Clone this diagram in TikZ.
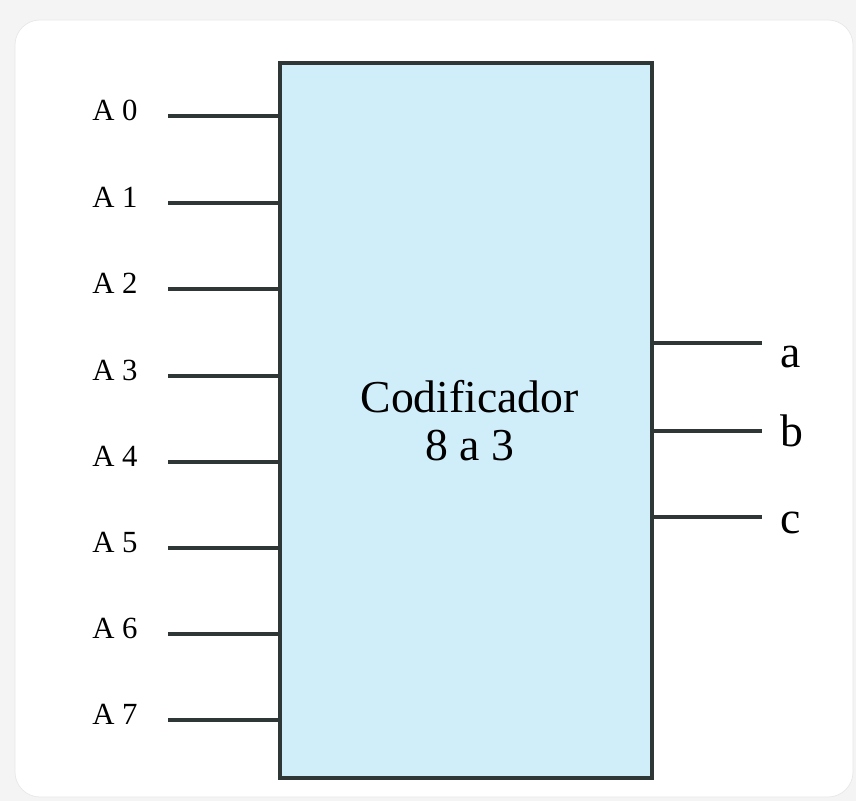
\documentclass[tikz,border=0pt]{standalone}
\usepackage{fontspec}
\setmainfont{Liberation Serif}
\definecolor{pagegray}{HTML}{F4F4F4}
\definecolor{cardline}{HTML}{E8E8E8}
\definecolor{encfill}{HTML}{D0EEF9}
\definecolor{wiregray}{HTML}{2E3636}

\begin{document}
\begin{tikzpicture}[
    wireline/.style={line width=2.1pt,draw=wiregray},
    inlabel/.style={anchor=base west,inner sep=0pt,font=\fontsize{17.5}{19}\selectfont},
    outlabel/.style={anchor=base west,inner sep=0pt,font=\fontsize{26}{28}\selectfont}]
    \useasboundingbox (0,0) rectangle (17.12,16.02);
    \fill[pagegray] (0,0) rectangle (17.12,16.02);
    \draw[cardline,fill=white,rounded corners=0.5cm] (0.3,0.08) rectangle (17.06,15.62);

    % encoder block
    \node[draw=wiregray,line width=2.1pt,fill=encfill,minimum width=7.44cm,minimum height=14.3cm,
          inner sep=0pt,align=center,font=\fontsize{26}{27.5}\selectfont] (enc) at (9.32,7.61)
          {\hspace*{0.15cm}Codificador\\\hspace*{0.15cm}8 a 3};

    % inputs
    \node[inlabel] (A0) at (1.84, 13.61) {A 0};
    \node[inlabel] (A1) at (1.84, 11.87) {A 1};
    \node[inlabel] (A2) at (1.84, 10.15) {A 2};
    \node[inlabel] (A3) at (1.84, 8.41) {A 3};
    \node[inlabel] (A4) at (1.84, 6.69) {A 4};
    \node[inlabel] (A5) at (1.84, 4.97) {A 5};
    \node[inlabel] (A6) at (1.84, 3.25) {A 6};
    \node[inlabel] (A7) at (1.84, 1.53) {A 7};

    \coordinate (in0) at (3.36, 13.70);
    \coordinate (in1) at (3.36, 11.96);
    \coordinate (in2) at (3.36, 10.24);
    \coordinate (in3) at (3.36, 8.50);
    \coordinate (in4) at (3.36, 6.78);
    \coordinate (in5) at (3.36, 5.06);
    \coordinate (in6) at (3.36, 3.34);
    \coordinate (in7) at (3.36, 1.62);

    \draw[wireline] (in0) -- (in0 -| enc.west);
    \draw[wireline] (in1) -- (in1 -| enc.west);
    \draw[wireline] (in2) -- (in2 -| enc.west);
    \draw[wireline] (in3) -- (in3 -| enc.west);
    \draw[wireline] (in4) -- (in4 -| enc.west);
    \draw[wireline] (in5) -- (in5 -| enc.west);
    \draw[wireline] (in6) -- (in6 -| enc.west);
    \draw[wireline] (in7) -- (in7 -| enc.west);

    % outputs
    \coordinate (outa) at (15.24, 9.16);
    \coordinate (outb) at (15.24, 7.40);
    \coordinate (outc) at (15.24, 5.68);

    \node[outlabel] (a) at (15.6, 8.66) {a};
    \node[outlabel] (b) at (15.6, 7.08) {b};
    \node[outlabel] (c) at (15.6, 5.34) {c};

    \draw[wireline] (outa -| enc.east) -- (outa);
    \draw[wireline] (outb -| enc.east) -- (outb);
    \draw[wireline] (outc -| enc.east) -- (outc);
\end{tikzpicture}
\end{document}
